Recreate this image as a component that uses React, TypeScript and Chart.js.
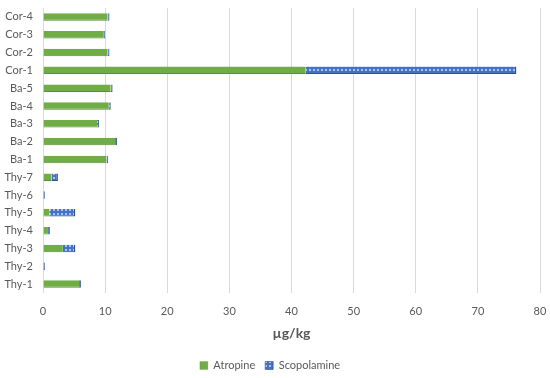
import React, { useEffect, useRef } from "react";
import { Chart, registerables } from "chart.js";

Chart.register(...registerables);

const categories = ["Cor-4", "Cor-3", "Cor-2", "Cor-1", "Ba-5", "Ba-4", "Ba-3", "Ba-2", "Ba-1", "Thy-7", "Thy-6", "Thy-5", "Thy-4", "Thy-3", "Thy-2", "Thy-1"];
const atropine = [10.4, 9.8, 10.4, 42.3, 10.9, 10.6, 8.7, 11.6, 10.2, 1.4, 0, 1.0, 0.8, 3.2, 0, 5.8];
const scopolamine = [0.3, 0.2, 0.3, 33.9, 0.3, 0.3, 0.3, 0.3, 0.3, 1.0, 0.3, 4.2, 0.3, 2.0, 0.3, 0.3];
const xTicks = [0, 10, 20, 30, 40, 50, 60, 70, 80];

function makePattern(): CanvasPattern | string {
  const c = document.createElement("canvas");
  c.width = 4;
  c.height = 4;
  const g = c.getContext("2d");
  if (!g) return "#4472C4";
  g.fillStyle = "#4472C4";
  g.fillRect(0, 0, 4, 4);
  g.fillStyle = "#a9c1ec";
  g.fillRect(1, 1, 2, 2);
  const p = g.createPattern(c, "repeat");
  return p || "#4472C4";
}

export default function App() {
  const ref = useRef<HTMLCanvasElement>(null);
  useEffect(() => {
    document.body.style.margin = "0";
    if (!ref.current) return;
    const pattern = makePattern();
    const font = "Lato, 'Open Sans', sans-serif";
    const chart = new Chart(ref.current, {
      type: "bar",
      data: {
        labels: categories,
        datasets: [
          {
            label: "Atropine",
            data: atropine,
            backgroundColor: "#70AD47",
            borderColor: "#5a8f38",
            borderWidth: { top: 0, right: 0, bottom: 1, left: 0 },
            borderSkipped: false,
            barPercentage: 0.42,
            categoryPercentage: 1,
          },
          {
            label: "Scopolamine",
            data: scopolamine,
            backgroundColor: pattern as any,
            borderColor: "#2f4f8f",
            borderWidth: { top: 0, right: 1.5, bottom: 1, left: 0 },
            borderSkipped: false,
            barPercentage: 0.42,
            categoryPercentage: 1,
          },
        ],
      },
      options: {
        indexAxis: "y",
        animation: false,
        responsive: false,
        layout: { autoPadding: false, padding: { top: 8, right: 10, left: 0, bottom: -3 } },
        scales: {
          x: {
            stacked: true,
            min: 0,
            max: 80,
            afterBuildTicks: (axis: any) => {
              axis.ticks = xTicks.map((v) => ({ value: v }));
            },
            afterFit: (axis: any) => {
              axis.paddingLeft = 0;
              axis.paddingRight = 0;
            },
            grid: { color: "#d9d9d9", drawTicks: false },
            border: { display: false },
            ticks: { color: "#595959", font: { family: font, size: 11 }, padding: 12 },
            title: {
              display: true,
              text: "µg/kg",
              color: "#595959",
              font: { family: font, size: 14, weight: "bold" },
              padding: { top: -5, bottom: 8 },
            },
          },
          y: {
            stacked: true,
            grid: { display: false, drawTicks: true, tickLength: 10 },
            border: { display: false },
            ticks: { color: "#595959", font: { family: font, size: 11 }, padding: 0 },
            afterFit: (axis: any) => {
              axis.width = 43;
              axis.paddingTop = 0;
              axis.paddingBottom = 0;
            },
          },
        },
        plugins: {
          legend: {
            position: "bottom",
            labels: {
              color: "#595959",
              font: { family: font, size: 11 },
              boxWidth: 8,
              boxHeight: 8,
              padding: 10,
            },
          },
          tooltip: { enabled: false },
        },
      },
    });
    return () => chart.destroy();
  }, []);
  return <canvas ref={ref} width={550} height={378} />;
}
